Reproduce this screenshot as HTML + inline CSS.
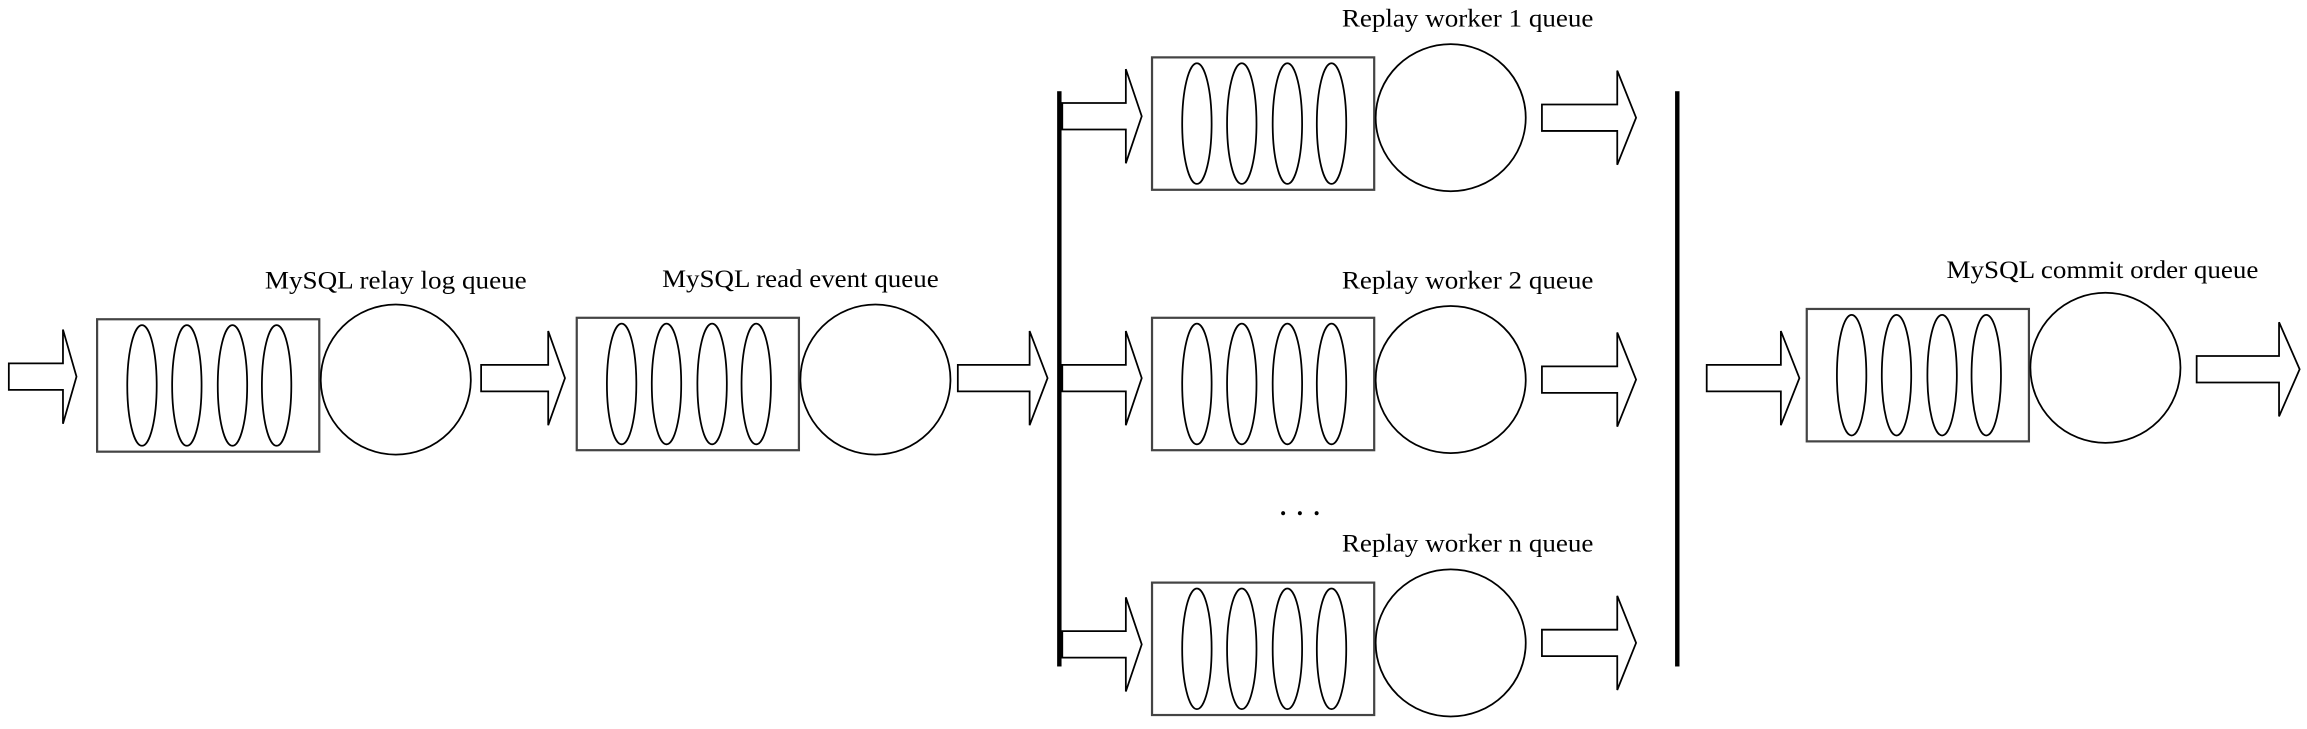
<!DOCTYPE html>
<html><head><meta charset="utf-8"><style>
html,body{margin:0;padding:0;background:#fff;}
svg{display:block;}
text{font-family:"Liberation Serif",serif;font-size:17px;fill:#000;}
</style></head><body>
<svg id="d" width="2307" height="729" viewBox="0 0 1568 495.5" preserveAspectRatio="none" xmlns="http://www.w3.org/2000/svg"></svg>
<script>
const unitNames=["relay-log","read-event","worker-1","worker-2","worker-n","commit-order"];
const unitBoxX=[66,392,783,783,783,1228];
const unitBoxY=[217,216,39,216,396,210];
const unitCircleCY=[258,258,80,258,437,250];
const unitLabels=["MySQL relay log queue","MySQL read event queue","Replay worker 1 queue","Replay worker 2 queue","Replay worker n queue","MySQL commit order queue"];
const labelX=[180,450,912,912,912,1323];
const labelY=[196,195,18,196,375,189];
const labelW=[178,188,171,171,171,212];
const arrowX0=[6,327,651,722,722,722,1048,1048,1048,1160,1493];
const arrowX1=[52,384,712,776,776,776,1112,1112,1112,1223,1563];
const arrowCY=[256,257,257,79,257,438,80,258,437,257,251];
const NS="http://www.w3.org/2000/svg";
const svg=document.getElementById('d');
function mk(t,a){const e=document.createElementNS(NS,t);for(const k in a)e.setAttribute(k,a[k]);svg.appendChild(e);return e;}
arrowX0.forEach((x0,i)=>{
  const x1=arrowX1[i],cy=arrowCY[i],hl=(x1-x0)*0.2,s=9,h=32,xb=x1-hl;
  const p=mk('polygon',{points:`${x0},${cy-s} ${xb},${cy-s} ${xb},${cy-h} ${x1},${cy} ${xb},${cy+h} ${xb},${cy+s} ${x0},${cy+s}`,fill:'#fff',stroke:'#000','stroke-width':1.2});
  
  
});
unitNames.forEach((n,i)=>{
  const bx=unitBoxX[i],by=unitBoxY[i],bw=151,bh=90;
  const r=mk('rect',{x:bx,y:by,width:bw,height:bh,fill:'#fff',stroke:'#444','stroke-width':1.5});
  
  
  [30.5,61,92,122].forEach(o=>{
    const e=mk('ellipse',{cx:bx+o,cy:by+bh/2,rx:10,ry:41,fill:'none',stroke:'#000','stroke-width':1.2});
    
    
  });
  const c=mk('ellipse',{cx:bx+bw+52,cy:unitCircleCY[i],rx:51,ry:i>=2&&i<=4?50:51,fill:'#fff',stroke:'#000','stroke-width':1.2});
  
  
  const t=mk('text',{x:labelX[i],y:labelY[i],textLength:labelW[i],lengthAdjust:'spacingAndGlyphs'});
  t.textContent=unitLabels[i];
  
  
});
const b1=mk('rect',{x:718.5,y:62,width:3,height:391,fill:'#000'});


const b2=mk('rect',{x:1138.5,y:62,width:3,height:391,fill:'#000'});


const dots=mk('text',{x:870,y:350,'font-size':'30px','font-weight':'bold',textLength:27,lengthAdjust:'spacing'});
dots.textContent='...';


</script>
</body></html>
